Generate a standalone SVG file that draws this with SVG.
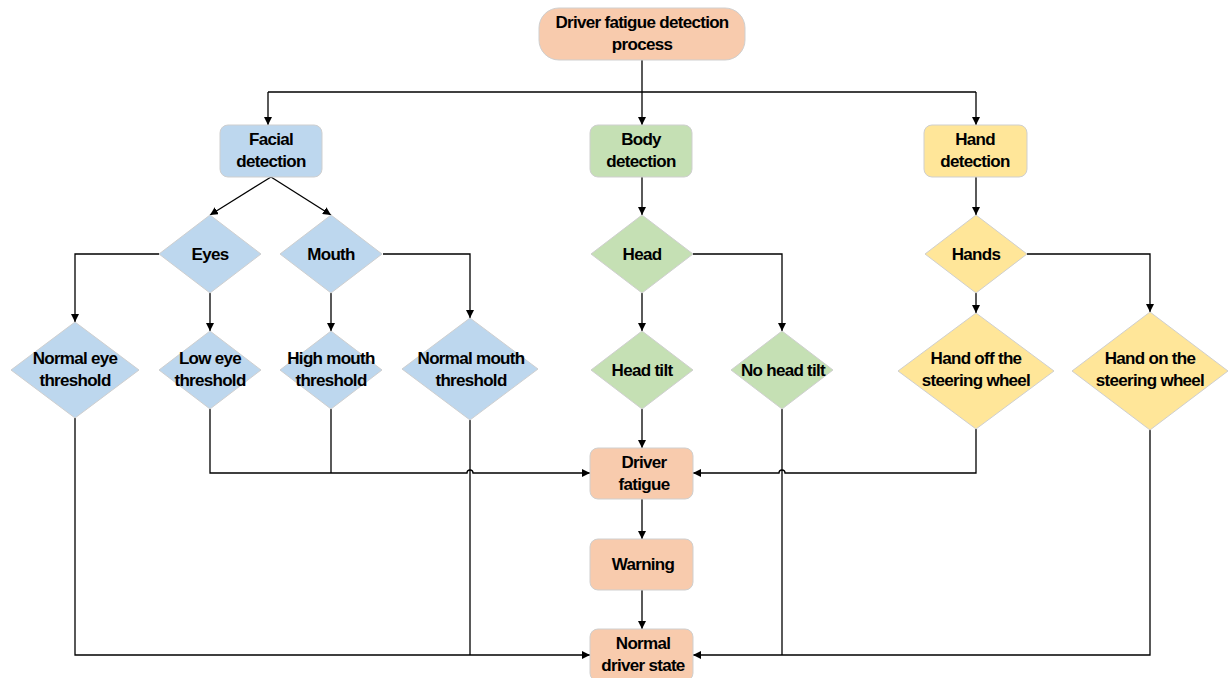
<svg xmlns="http://www.w3.org/2000/svg" width="1230" height="678" viewBox="0 0 1230 678">
<style>
.n{stroke:#cfcfcf;stroke-width:1}
.o{fill:#F8CBAD}.b{fill:#BDD7EE}.g{fill:#C5E0B4}.y{fill:#FFE699}
text{font-family:"Liberation Sans",Arial,sans-serif;font-weight:bold;font-size:17px;letter-spacing:-0.7px;text-anchor:middle;fill:#000}
.c path{fill:none;stroke:#000;stroke-width:1.3}
.c path.a{marker-end:url(#ar)}
</style>
<defs>
<marker id="ar" viewBox="0 0 10 10" refX="10" refY="5" markerWidth="8" markerHeight="8" markerUnits="userSpaceOnUse" orient="auto">
<path d="M0,0 L10,5 L0,10 z" fill="#000"/>
</marker>
</defs>
<rect width="1230" height="678" fill="#fff"/>
<g class="c" id="connectors">
<path d="M642 60 V92"/>
<path d="M268 92 H976"/>
<path class="a" d="M268 92 V125"/>
<path class="a" d="M642 92 V125"/>
<path class="a" d="M976 92 V125"/>
<path class="a" d="M271 177 L210 215"/>
<path class="a" d="M271 177 L331 215"/>
<path class="a" d="M159 254 H75 V322"/>
<path class="a" d="M210 293 V331"/>
<path class="a" d="M331 293 V331"/>
<path class="a" d="M383 254 H470 V318"/>
<path class="a" d="M642 177 V215"/>
<path class="a" d="M642 293 V331"/>
<path class="a" d="M693 254 H782 V331"/>
<path class="a" d="M976 177 V215"/>
<path class="a" d="M976 293 V313"/>
<path class="a" d="M1027 254 H1150 V312"/>
<path class="a" d="M210 409 V473 H467 A3 3 0 0 1 473 473 H590"/>
<path d="M331 409 V473"/>
<path class="a" d="M642 409 V448"/>
<path class="a" d="M976 429 V473 H785 A3 3 0 0 0 779 473 H693"/>
<path d="M470 420 V655"/>
<path d="M782 409 V655"/>
<path class="a" d="M75 418 V655 H590"/>
<path class="a" d="M1150 429 V655 H693"/>
<path class="a" d="M642 499 V539"/>
<path class="a" d="M642 590 V629"/>
</g>
<g id="start"><rect class="n o" x="539" y="8" width="206" height="52" rx="20"/><text x="642" y="28">Driver fatigue detection</text><text x="642" y="50">process</text></g>
<g id="facial"><rect class="n b" x="220" y="125" width="102" height="52" rx="8"/><text x="271" y="145">Facial</text><text x="271" y="167">detection</text></g>
<g id="body"><rect class="n g" x="590" y="125" width="102" height="52" rx="8"/><text x="641" y="145">Body</text><text x="641" y="167">detection</text></g>
<g id="hand"><rect class="n y" x="924" y="125" width="103" height="52" rx="8"/><text x="975" y="145">Hand</text><text x="975" y="167">detection</text></g>
<g id="eyes"><polygon class="n b" points="210,215 261,254 210,293 159,254"/><text x="210" y="260">Eyes</text></g>
<g id="mouth"><polygon class="n b" points="331,215 382,254 331,293 280,254"/><text x="331" y="260">Mouth</text></g>
<g id="head"><polygon class="n g" points="642,215 693,254 642,293 591,254"/><text x="642" y="260">Head</text></g>
<g id="hands"><polygon class="n y" points="976,215 1027,254 976,293 925,254"/><text x="976" y="260">Hands</text></g>
<g id="normal-eye"><polygon class="n b" points="75,322 139,370 75,418 11,370"/><text x="75" y="364">Normal eye</text><text x="75" y="386">threshold</text></g>
<g id="low-eye"><polygon class="n b" points="210,331 261,370 210,409 159,370"/><text x="210" y="364">Low eye</text><text x="210" y="386">threshold</text></g>
<g id="high-mouth"><polygon class="n b" points="331,331 382,370 331,409 280,370"/><text x="331" y="364">High mouth</text><text x="331" y="386">threshold</text></g>
<g id="normal-mouth"><polygon class="n b" points="470,318 538,369 470,420 402,369"/><text x="471" y="364">Normal mouth</text><text x="471" y="386">threshold</text></g>
<g id="head-tilt"><polygon class="n g" points="642,331 693,370 642,409 591,370"/><text x="642" y="376">Head tilt</text></g>
<g id="no-head-tilt"><polygon class="n g" points="782,331 833,370 782,409 731,370"/><text x="783" y="376">No head tilt</text></g>
<g id="hand-off"><polygon class="n y" points="976,313 1054,371 976,429 898,371"/><text x="976" y="364">Hand off the</text><text x="976" y="386">steering wheel</text></g>
<g id="hand-on"><polygon class="n y" points="1150,312 1228,371 1150,430 1072,371"/><text x="1150" y="364">Hand on the</text><text x="1150" y="386">steering wheel</text></g>
<g id="driver-fatigue"><rect class="n o" x="590" y="448" width="103" height="51" rx="8"/><text x="644" y="468">Driver</text><text x="644" y="490">fatigue</text></g>
<g id="warning"><rect class="n o" x="590" y="539" width="103" height="51" rx="8"/><text x="643" y="570">Warning</text></g>
<g id="normal-state"><rect class="n o" x="590" y="629" width="103" height="52" rx="8"/><text x="643" y="649">Normal</text><text x="643" y="671">driver state</text></g>
</svg>
